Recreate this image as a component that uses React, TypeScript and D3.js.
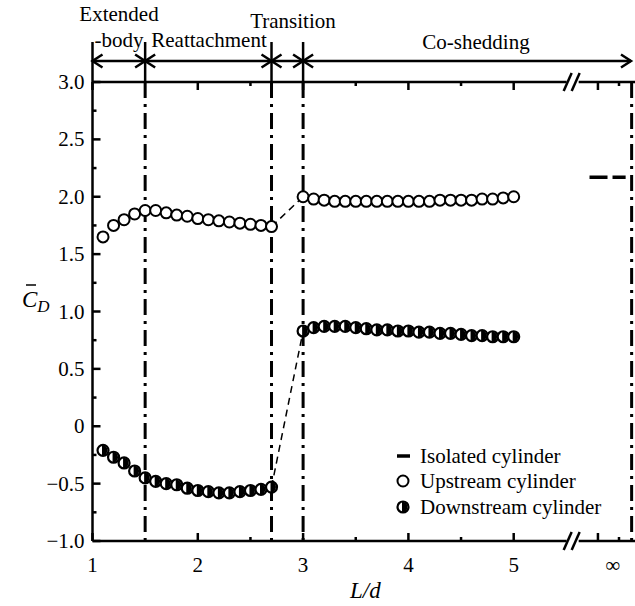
import React from "react";
import * as d3 from "d3";

// L/d positions and mean drag coefficients
const lowGaps = [1.1, 1.2, 1.3, 1.4, 1.5, 1.6, 1.7, 1.8, 1.9, 2.0, 2.1, 2.2, 2.3, 2.4, 2.5, 2.6, 2.7];
const upLow = [1.65, 1.75, 1.8, 1.85, 1.88, 1.88, 1.86, 1.84, 1.83, 1.81, 1.8, 1.79, 1.78, 1.77, 1.76, 1.75, 1.74];
const downLow = [-0.21, -0.27, -0.32, -0.39, -0.45, -0.48, -0.5, -0.51, -0.54, -0.56, -0.57, -0.58, -0.58, -0.57, -0.56, -0.55, -0.53];

const highGaps = [3.0, 3.1, 3.2, 3.3, 3.4, 3.5, 3.6, 3.7, 3.8, 3.9, 4.0, 4.1, 4.2, 4.3, 4.4, 4.5, 4.6, 4.7, 4.8, 4.9, 5.0];
const upHigh = [2.0, 1.98, 1.97, 1.96, 1.96, 1.96, 1.96, 1.96, 1.96, 1.96, 1.96, 1.96, 1.96, 1.97, 1.97, 1.97, 1.97, 1.98, 1.98, 1.99, 2.0];
const downHigh = [0.83, 0.86, 0.87, 0.87, 0.87, 0.86, 0.85, 0.84, 0.84, 0.83, 0.83, 0.82, 0.82, 0.81, 0.81, 0.8, 0.79, 0.79, 0.78, 0.78, 0.78];

const isolatedCd = 2.17;

const regimeEdges = [1.0, 1.5, 2.7, 3.0];
const regimeLines = [1.5, 2.7, 3.0];
const xMajor = [1, 2, 3, 4, 5];
const xMinor = [2.5, 3.5, 4.5];
const yMajor = [-1, -0.5, 0, 0.5, 1, 1.5, 2, 2.5, 3];
const yLabels = ["\u22121.0", "\u22120.5", "0", "0.5", "1.0", "1.5", "2.0", "2.5", "3.0"];
const yMinor = [-0.75, -0.25, 0.25, 0.75, 1.25, 1.75, 2.25, 2.75];

// the broken part of the axis holding L/d = infinity
const breakAt = 5.56;
const infMajor = 5.8;
const infMinor = 6.0;
const infLabel = 5.94;
const infLine = 6.12;
const isoStart = 5.72;

const font = "'Liberation Serif', 'Times New Roman', serif";

const x = d3.scaleLinear().domain([1, 5]).range([92.5, 513.7]);
const y = d3.scaleLinear().domain([-1, 3]).range([541, 82]);

const top = y(3);
const bottom = y(-1);
const right = 640;
const R = 5.5;

function Arrow({ x0, x1, yy, left = true, rightHead = true }) {
  const h = 10;
  const w = 6.5;
  return (
    <g stroke="black" strokeWidth={2.5} fill="none">
      <line x1={x0} x2={x1} y1={yy} y2={yy} />
      {left && <polyline points={`${x0 + h},${yy - w} ${x0},${yy} ${x0 + h},${yy + w}`} />}
      {rightHead && <polyline points={`${x1 - h},${yy - w} ${x1},${yy} ${x1 - h},${yy + w}`} />}
    </g>
  );
}

function HalfDot({ cx, cy, r = R }) {
  return (
    <g transform={`translate(${cx},${cy})`}>
      <circle r={r} fill="white" />
      <path d={`M-1,${-r} A${r},${r} 0 0 1 -1,${r} Z`} fill="black" />
      <circle r={r} fill="none" stroke="black" strokeWidth={2.2} />
    </g>
  );
}

function Break({ cx, cy }) {
  return (
    <g>
      <rect x={cx - 6} y={cy - 3} width={12} height={6} fill="white" />
      <line x1={cx - 9} y1={cy + 9} x2={cx - 1} y2={cy - 9} stroke="black" strokeWidth={2.5} />
      <line x1={cx - 1} y1={cy + 9} x2={cx + 7} y2={cy - 9} stroke="black" strokeWidth={2.5} />
    </g>
  );
}

export default function App() {
  const arrowY = 61;
  const allTicksX = [...xMajor, infMajor];
  return (
    <svg width={635} height={606} style={{ display: "block", position: "absolute", left: 0, top: 0 }} fontFamily={font}>
      <rect width={635} height={606} fill="white" />

      {/* regime annotation above the plot */}
      {regimeEdges.map((v) => (
        <line key={"e" + v} x1={x(v)} x2={x(v)} y1={42} y2={top} stroke="black" strokeWidth={2.5} />
      ))}
      <Arrow x0={x(1)} x1={x(1.5)} yy={arrowY} />
      <Arrow x0={x(1.5)} x1={x(2.7)} yy={arrowY} />
      <Arrow x0={x(2.7)} x1={x(3)} yy={arrowY} />
      <Arrow x0={x(3)} x1={631} yy={arrowY} />
      <g fontSize={21} textAnchor="middle">
        <text x={119} y={21}>Extended</text>
        <text x={119} y={47}>-body</text>
        <text x={209} y={47}>Reattachment</text>
        <text x={293} y={28}>Transition</text>
        <text x={476} y={49}>Co-shedding</text>
      </g>

      {/* regime boundaries */}
      {[...regimeLines, infLine].map((v) => (
        <line key={"r" + v} x1={x(v)} x2={x(v)} y1={top} y2={bottom} stroke="black" strokeWidth={3} strokeDasharray="16 6 3 6" />
      ))}

      {/* axes */}
      <g stroke="black" strokeWidth={2.5}>
        <line x1={x(1)} x2={x(1)} y1={top} y2={bottom} />
        <line x1={x(1)} x2={right} y1={bottom} y2={bottom} />
        <line x1={x(1)} x2={right} y1={top} y2={top} />
        {allTicksX.map((v) => (
          <g key={"xt" + v}>
            <line x1={x(v)} x2={x(v)} y1={bottom} y2={bottom - 8} />
            <line x1={x(v)} x2={x(v)} y1={top} y2={top + 8} />
          </g>
        ))}
        {[...xMinor, infMinor].map((v) => (
          <g key={"xm" + v}>
            <line x1={x(v)} x2={x(v)} y1={bottom} y2={bottom - 4} />
            <line x1={x(v)} x2={x(v)} y1={top} y2={top + 4} />
          </g>
        ))}
        {yMajor.map((v) => (
          <line key={"yt" + v} x1={x(1)} x2={x(1) + 8} y1={y(v)} y2={y(v)} />
        ))}
        {yMinor.map((v) => (
          <line key={"ym" + v} x1={x(1)} x2={x(1) + 4} y1={y(v)} y2={y(v)} />
        ))}
      </g>
      <Break cx={x(breakAt)} cy={bottom} />
      <Break cx={x(breakAt)} cy={top} />

      {/* tick labels */}
      <g fontSize={21} textAnchor="end">
        {yMajor.map((v, i) => (
          <text key={"yl" + v} x={x(1) - 8} y={y(v) + 7}>{yLabels[i]}</text>
        ))}
      </g>
      <g fontSize={21} textAnchor="middle">
        {xMajor.map((v) => (
          <text key={"xl" + v} x={x(v)} y={572}>{v}</text>
        ))}
        <text x={x(infLabel)} y={572}>{"\u221E"}</text>
      </g>

      {/* axis titles */}
      <g fontSize={23} fontStyle="italic">
        <text x={350} y={598}>L/d</text>
        <text x={22} y={307}>
          C<tspan fontSize={17} dy={5}>D</tspan>
        </text>
        <line x1={26} x2={36} y1={285} y2={285} stroke="black" strokeWidth={1.5} />
      </g>

      {/* transition jump */}
      <g stroke="black" strokeWidth={1.5} strokeDasharray="7 5" fill="none">
        <line x1={x(2.7)} y1={y(upLow[upLow.length - 1])} x2={x(3)} y2={y(upHigh[0])} />
        <line x1={x(2.7)} y1={y(downLow[downLow.length - 1])} x2={x(3)} y2={y(downHigh[0])} />
      </g>

      {/* isolated cylinder */}
      <line x1={x(isoStart)} x2={x(infLine) - 6} y1={y(isolatedCd)} y2={y(isolatedCd)} stroke="black" strokeWidth={3.5} strokeDasharray="18 5" />

      {/* upstream cylinder */}
      {[...lowGaps.map((g, i) => [g, upLow[i]]), ...highGaps.map((g, i) => [g, upHigh[i]])].map(([g, v]) => (
        <circle key={"u" + g} cx={x(g)} cy={y(v)} r={R} fill="white" stroke="black" strokeWidth={2} />
      ))}

      {/* downstream cylinder */}
      {[...lowGaps.map((g, i) => [g, downLow[i]]), ...highGaps.map((g, i) => [g, downHigh[i]])].map(([g, v]) => (
        <HalfDot key={"d" + g} cx={x(g)} cy={y(v)} />
      ))}

      {/* legend */}
      <g fontSize={21}>
        <line x1={397} x2={410} y1={456} y2={456} stroke="black" strokeWidth={3.5} />
        <text x={420} y={463}>Isolated cylinder</text>
        <circle cx={403} cy={481} r={R} fill="white" stroke="black" strokeWidth={2} />
        <text x={420} y={488}>Upstream cylinder</text>
        <HalfDot cx={403} cy={507} />
        <text x={420} y={514}>Downstream cylinder</text>
      </g>
    </svg>
  );
}
